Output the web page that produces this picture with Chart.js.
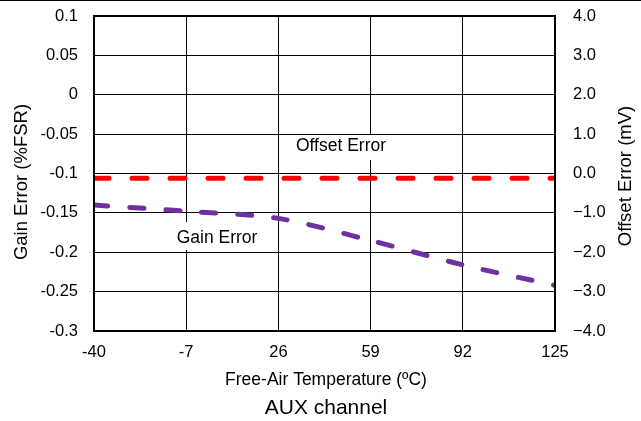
<!DOCTYPE html>
<html>
<head>
<meta charset="utf-8">
<script src="https://cdn.jsdelivr.net/npm/chart.js@4"></script>
<style>
  html, body { margin: 0; padding: 0; background: #fff; }
  body { border-top: 1px solid #000; box-sizing: border-box; width: 641px; height: 421px; }
  #wrap { width: 641px; height: 420px; }
</style>
</head>
<body>
<div id="wrap"><canvas id="chart"></canvas></div>
<script>
const temps = [-40, -7, 26, 59, 92, 125];
const gainError = [-0.140, -0.148, -0.157, -0.185, -0.216, -0.242];
const offsetError = [-0.12, -0.12, -0.12, -0.12, -0.12, -0.12];
const xTicks = [-40, -7, 26, 59, 92, 125];
const gainTicks = [-0.3, -0.25, -0.2, -0.15, -0.1, -0.05, 0, 0.05, 0.1];
const gainTickLabels = ["-0.3", "-0.25", "-0.2", "-0.15", "-0.1", "-0.05", "0", "0.05", "0.1"];
const offsetTicks = [-4, -3, -2, -1, 0, 1, 2, 3, 4];
const offsetTickLabels = ["\u22124.0", "\u22123.0", "\u22122.0", "\u22121.0", "0.0", "1.0", "2.0", "3.0", "4.0"];

const FONT = "'Liberation Sans', Arial, sans-serif";

// axis titles, in-plot labels and the frame
const extras = {
    id: "extras",
    afterDraw(chart) {
        const c = chart.ctx;
        const a = chart.chartArea;
        c.save();
        c.strokeStyle = "#000";
        c.lineWidth = 2;
        c.strokeRect(a.left, a.top, a.right - a.left, a.bottom - a.top);

        c.fillStyle = "#000";
        c.font = "17.5px " + FONT;
        c.textAlign = "center";
        c.textBaseline = "middle";
        c.fillText("Free-Air Temperature (\u00BAC)", 326, 379);

        c.font = "18.5px " + FONT;
        c.save();
        c.translate(22, 181);
        c.rotate(-Math.PI / 2);
        c.fillText("Gain Error (%FSR)", 0, 0);
        c.restore();

        c.save();
        c.translate(626, 175);
        c.rotate(-Math.PI / 2);
        c.fillText("Offset Error (mV)", 0, 0);
        c.restore();

        c.font = "21px " + FONT;
        c.fillText("AUX channel", 326, 407);
        c.restore();
    },
    beforeDatasetsDraw(chart) {
        const c = chart.ctx;
        c.save();
        c.fillStyle = "#fff";
        c.fillRect(287, 134, 110, 25);
        c.fillRect(167, 221, 102, 28);
        c.fillStyle = "#000";
        c.font = "17.5px " + FONT;
        c.textAlign = "center";
        c.textBaseline = "middle";
        c.fillText("Offset Error", 341, 145);
        c.fillText("Gain Error", 217, 237);
        c.restore();
    }
};

const noPad = s => { s.paddingTop = 0; s.paddingBottom = 0; s.paddingLeft = 0; s.paddingRight = 0; };

const ctx = document.getElementById("chart").getContext("2d");

const chart = new Chart(ctx, {
    type: "line",
    data: {
        datasets: [
            {
                label: "Offset Error",
                data: temps.map((t, i) => ({ x: t, y: offsetError[i] })),
                yAxisID: "y2",
                borderColor: "#ff0000",
                borderWidth: 5,
                borderDash: [15, 23],
                borderCapStyle: "round",
                pointRadius: 0,
                fill: false,
            },
            {
                label: "Gain Error",
                data: temps.map((t, i) => ({ x: t, y: gainError[i] })),
                yAxisID: "y",
                borderColor: "#7030a0",
                borderWidth: 5,
                borderDash: [14, 22],
                borderCapStyle: "round",
                tension: 0.3,
                pointRadius: 0,
                fill: false,
            },
        ],
    },
    options: {
        responsive: true,
        maintainAspectRatio: false,
        animation: false,
        layout: { padding: { top: 15, left: 0, right: 0, bottom: 0 } },
        plugins: { legend: { display: false }, tooltip: { enabled: false } },
        scales: {
            x: {
                type: "linear",
                min: -40,
                max: 125,
                afterBuildTicks: axis => { axis.ticks = xTicks.map(v => ({ value: v })); },
                afterFit: s => { noPad(s); s.height = 90; },
                grid: { color: "#000", lineWidth: 1, drawTicks: false },
                border: { display: false },
                ticks: {
                    color: "#000",
                    font: { family: FONT, size: 16.5 },
                    padding: 12,
                    maxRotation: 0,
                    callback: v => String(v),
                },
            },
            y: {
                position: "left",
                min: -0.3,
                max: 0.1,
                afterBuildTicks: axis => { axis.ticks = gainTicks.map(v => ({ value: v })); },
                afterFit: s => { noPad(s); s.width = 94; },
                grid: { color: "#000", lineWidth: 1, drawTicks: false },
                border: { display: false },
                ticks: {
                    color: "#000",
                    font: { family: FONT, size: 16.5 },
                    padding: 16,
                    callback: (v, i) => gainTickLabels[i],
                },
            },
            y2: {
                position: "right",
                min: -4,
                max: 4,
                afterBuildTicks: axis => { axis.ticks = offsetTicks.map(v => ({ value: v })); },
                afterFit: s => { noPad(s); s.width = 86; },
                grid: { display: false, drawTicks: false },
                border: { display: false },
                ticks: {
                    color: "#000",
                    font: { family: FONT, size: 16.5 },
                    padding: 18,
                    callback: (v, i) => offsetTickLabels[i],
                },
            },
        },
    },
    plugins: [extras],
});
</script>
</body>
</html>
